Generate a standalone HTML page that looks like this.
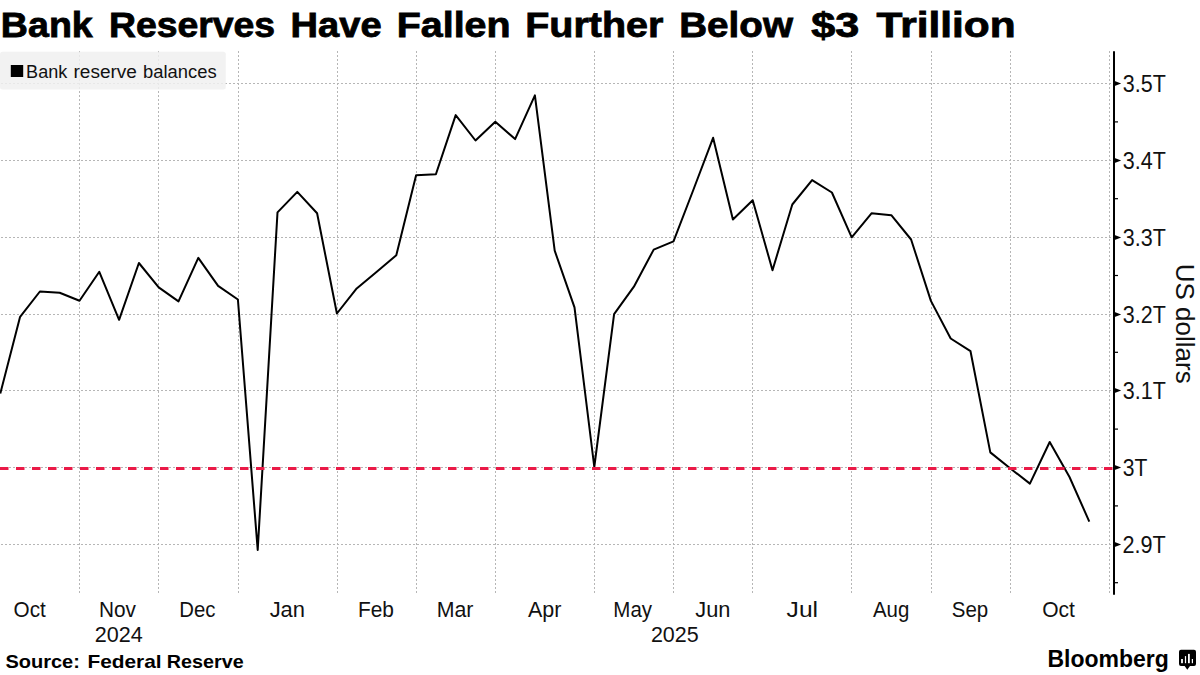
<!DOCTYPE html>
<html><head><meta charset="utf-8"><style>
html,body{margin:0;padding:0;background:#fff;}
body{width:1200px;height:675px;overflow:hidden;}
svg{display:block;font-family:"Liberation Sans",sans-serif;}
</style></head><body>
<svg width="1200" height="675" viewBox="0 0 1200 675">
<rect width="1200" height="675" fill="#fff"/>
<g font-weight="bold" font-size="34.5" fill="#000" stroke="#000" stroke-width="0.8">
<text x="0.89" y="36.8" textLength="91.88" lengthAdjust="spacingAndGlyphs">Bank</text>
<text x="108.90" y="36.8" textLength="166.23" lengthAdjust="spacingAndGlyphs">Reserves</text>
<text x="290.55" y="36.8" textLength="91.05" lengthAdjust="spacingAndGlyphs">Have</text>
<text x="396.77" y="36.8" textLength="113.78" lengthAdjust="spacingAndGlyphs">Fallen</text>
<text x="525.26" y="36.8" textLength="138.14" lengthAdjust="spacingAndGlyphs">Further</text>
<text x="679.22" y="36.8" textLength="113.71" lengthAdjust="spacingAndGlyphs">Below</text>
<text x="811.23" y="36.8" textLength="48.03" lengthAdjust="spacingAndGlyphs">$3</text>
<text x="876.63" y="36.8" textLength="139.06" lengthAdjust="spacingAndGlyphs">Trillion</text>
</g>
<g stroke="#b6b6b6" stroke-width="1" stroke-dasharray="2 2" fill="none">
<line x1="1" y1="83.50" x2="1113" y2="83.50"/>
<line x1="1" y1="160.50" x2="1113" y2="160.50"/>
<line x1="1" y1="237.50" x2="1113" y2="237.50"/>
<line x1="1" y1="314.50" x2="1113" y2="314.50"/>
<line x1="1" y1="390.50" x2="1113" y2="390.50"/>
<line x1="1" y1="467.50" x2="1113" y2="467.50"/>
<line x1="1" y1="544.50" x2="1113" y2="544.50"/>
<line x1="79.50" y1="51" x2="79.50" y2="594.5"/>
<line x1="158.50" y1="51" x2="158.50" y2="594.5"/>
<line x1="238.50" y1="51" x2="238.50" y2="594.5"/>
<line x1="337.50" y1="51" x2="337.50" y2="594.5"/>
<line x1="416.50" y1="51" x2="416.50" y2="594.5"/>
<line x1="495.50" y1="51" x2="495.50" y2="594.5"/>
<line x1="594.50" y1="51" x2="594.50" y2="594.5"/>
<line x1="673.50" y1="51" x2="673.50" y2="594.5"/>
<line x1="752.50" y1="51" x2="752.50" y2="594.5"/>
<line x1="851.50" y1="51" x2="851.50" y2="594.5"/>
<line x1="931.50" y1="51" x2="931.50" y2="594.5"/>
<line x1="1010.50" y1="51" x2="1010.50" y2="594.5"/>
<line x1="1109.50" y1="51" x2="1109.50" y2="594.5"/>
</g>
<rect x="0" y="51.7" width="225.8" height="37.9" rx="2.5" fill="#f0f0f0" fill-opacity="0.85"/>
<rect x="10.8" y="65" width="12.4" height="12" fill="#000"/>
<g font-size="17.5" fill="#111">
<text x="26.12" y="77.8" textLength="41.15" lengthAdjust="spacingAndGlyphs">Bank</text>
<text x="73.54" y="77.8" textLength="63.41" lengthAdjust="spacingAndGlyphs">reserve</text>
<text x="143.12" y="77.8" textLength="73.55" lengthAdjust="spacingAndGlyphs">balances</text>
</g>
<polyline points="0.30,393.6 20.10,316.8 39.90,291.5 59.70,292.8 79.50,300.7 99.30,271.8 119.10,319.8 138.90,263.0 158.70,287.4 178.50,301.4 198.30,257.8 218.10,285.9 237.90,299.5 257.70,550.0 277.50,212.4 297.30,191.9 317.10,213.3 336.90,313.5 356.70,288.4 376.50,272.0 396.30,255.3 416.10,175.2 435.90,174.3 455.70,115.1 475.50,140.5 495.30,121.7 515.10,139.1 534.90,95.4 554.70,250.7 574.50,307.3 594.30,467.0 614.10,314.2 633.90,286.7 653.70,249.6 673.50,241.3 693.30,190.0 713.10,137.8 732.90,219.5 752.70,200.2 772.50,270.2 792.30,204.5 812.10,180.1 831.90,192.5 851.70,237.3 871.50,213.3 891.30,215.2 911.10,239.5 930.90,300.9 950.70,338.5 970.50,351.2 990.30,452.4 1010.10,468.3 1029.90,483.6 1049.70,442.0 1069.50,477.0 1089.30,521.6" fill="none" stroke="#000" stroke-width="2" stroke-linejoin="round"/>
<line x1="0" y1="468.5" x2="1113" y2="468.5" stroke="#ea1a47" stroke-width="3" stroke-dasharray="8.5 7.5"/>
<line x1="1114" y1="51.3" x2="1114" y2="594.7" stroke="#000" stroke-width="2"/>
<g fill="#000">
<path d="M1114 80.80 L1121.2 83.50 L1114 86.20 Z"/>
<path d="M1114 157.80 L1121.2 160.50 L1114 163.20 Z"/>
<path d="M1114 234.80 L1121.2 237.50 L1114 240.20 Z"/>
<path d="M1114 311.80 L1121.2 314.50 L1114 317.20 Z"/>
<path d="M1114 387.80 L1121.2 390.50 L1114 393.20 Z"/>
<path d="M1114 464.80 L1121.2 467.50 L1114 470.20 Z"/>
<path d="M1114 541.80 L1121.2 544.50 L1114 547.20 Z"/>
<rect x="1114" y="121.30" width="4" height="1.2"/>
<rect x="1114" y="198.10" width="4" height="1.2"/>
<rect x="1114" y="274.90" width="4" height="1.2"/>
<rect x="1114" y="351.70" width="4" height="1.2"/>
<rect x="1114" y="428.50" width="4" height="1.2"/>
<rect x="1114" y="505.30" width="4" height="1.2"/>
<rect x="1114" y="582.10" width="4" height="1.2"/>
</g>
<g font-size="23" fill="#111">
<text x="1122.78" y="91.9" textLength="43.01" lengthAdjust="spacingAndGlyphs">3.5T</text>
<text x="1122.78" y="168.9" textLength="43.01" lengthAdjust="spacingAndGlyphs">3.4T</text>
<text x="1122.78" y="245.9" textLength="43.01" lengthAdjust="spacingAndGlyphs">3.3T</text>
<text x="1122.78" y="322.9" textLength="43.01" lengthAdjust="spacingAndGlyphs">3.2T</text>
<text x="1122.78" y="398.9" textLength="43.01" lengthAdjust="spacingAndGlyphs">3.1T</text>
<text x="1122.80" y="475.9" textLength="24.59" lengthAdjust="spacingAndGlyphs">3T</text>
<text x="1122.51" y="552.9" textLength="43.28" lengthAdjust="spacingAndGlyphs">2.9T</text>
</g>
<g font-size="22.3" fill="#111">
<text x="13.52" y="617" textLength="32.23" lengthAdjust="spacingAndGlyphs">Oct</text>
<text x="98.99" y="617" textLength="36.98" lengthAdjust="spacingAndGlyphs">Nov</text>
<text x="179.33" y="617" textLength="36.21" lengthAdjust="spacingAndGlyphs">Dec</text>
<text x="269.66" y="617" textLength="35.37" lengthAdjust="spacingAndGlyphs">Jan</text>
<text x="357.89" y="617" textLength="35.99" lengthAdjust="spacingAndGlyphs">Feb</text>
<text x="436.65" y="617" textLength="36.70" lengthAdjust="spacingAndGlyphs">Mar</text>
<text x="527.96" y="617" textLength="33.40" lengthAdjust="spacingAndGlyphs">Apr</text>
<text x="613.32" y="617" textLength="38.72" lengthAdjust="spacingAndGlyphs">May</text>
<text x="695.26" y="617" textLength="35.16" lengthAdjust="spacingAndGlyphs">Jun</text>
<text x="786.62" y="617" textLength="31.43" lengthAdjust="spacingAndGlyphs">Jul</text>
<text x="872.96" y="617" textLength="36.36" lengthAdjust="spacingAndGlyphs">Aug</text>
<text x="951.77" y="617" textLength="36.49" lengthAdjust="spacingAndGlyphs">Sep</text>
<text x="1042.31" y="617" textLength="32.65" lengthAdjust="spacingAndGlyphs">Oct</text>
<text x="94.81" y="642" textLength="48.02" lengthAdjust="spacingAndGlyphs">2024</text>
<text x="650.92" y="642" textLength="47.78" lengthAdjust="spacingAndGlyphs">2025</text>
</g>
<text transform="translate(1175.8,0) rotate(90)" x="263.80" y="0" font-size="26.5" fill="#111" textLength="119.84" lengthAdjust="spacingAndGlyphs">US dollars</text>
<g font-size="18.5" font-weight="bold" fill="#000">
<text x="5.42" y="668" textLength="74.50" lengthAdjust="spacingAndGlyphs">Source:</text>
<text x="87.41" y="668" textLength="74.17" lengthAdjust="spacingAndGlyphs">Federal</text>
<text x="166.88" y="668" textLength="76.79" lengthAdjust="spacingAndGlyphs">Reserve</text>
</g>
<g font-size="23.5" font-weight="bold" fill="#000">
<text x="1047.46" y="666.7" textLength="121.38" lengthAdjust="spacingAndGlyphs">Bloomberg</text>
</g>
<g>
<path d="M1181 649.7 H1194 Q1196 649.7 1196 651.7 V663.9 Q1196 665.9 1194 665.9 H1190 L1187.3 669.7 L1184.6 665.9 H1181 Q1179 665.9 1179 663.9 V651.7 Q1179 649.7 1181 649.7 Z" fill="#000"/>
<rect x="1181.1" y="659" width="1.8" height="4.2" fill="#fff"/>
<rect x="1184.9" y="656.1" width="1.2" height="7.1" fill="#fff"/>
<rect x="1188" y="653.9" width="1.8" height="9.3" fill="#fff"/>
<rect x="1191.8" y="659" width="1.2" height="4.2" fill="#fff"/>
</g>
</svg>
</body></html>
